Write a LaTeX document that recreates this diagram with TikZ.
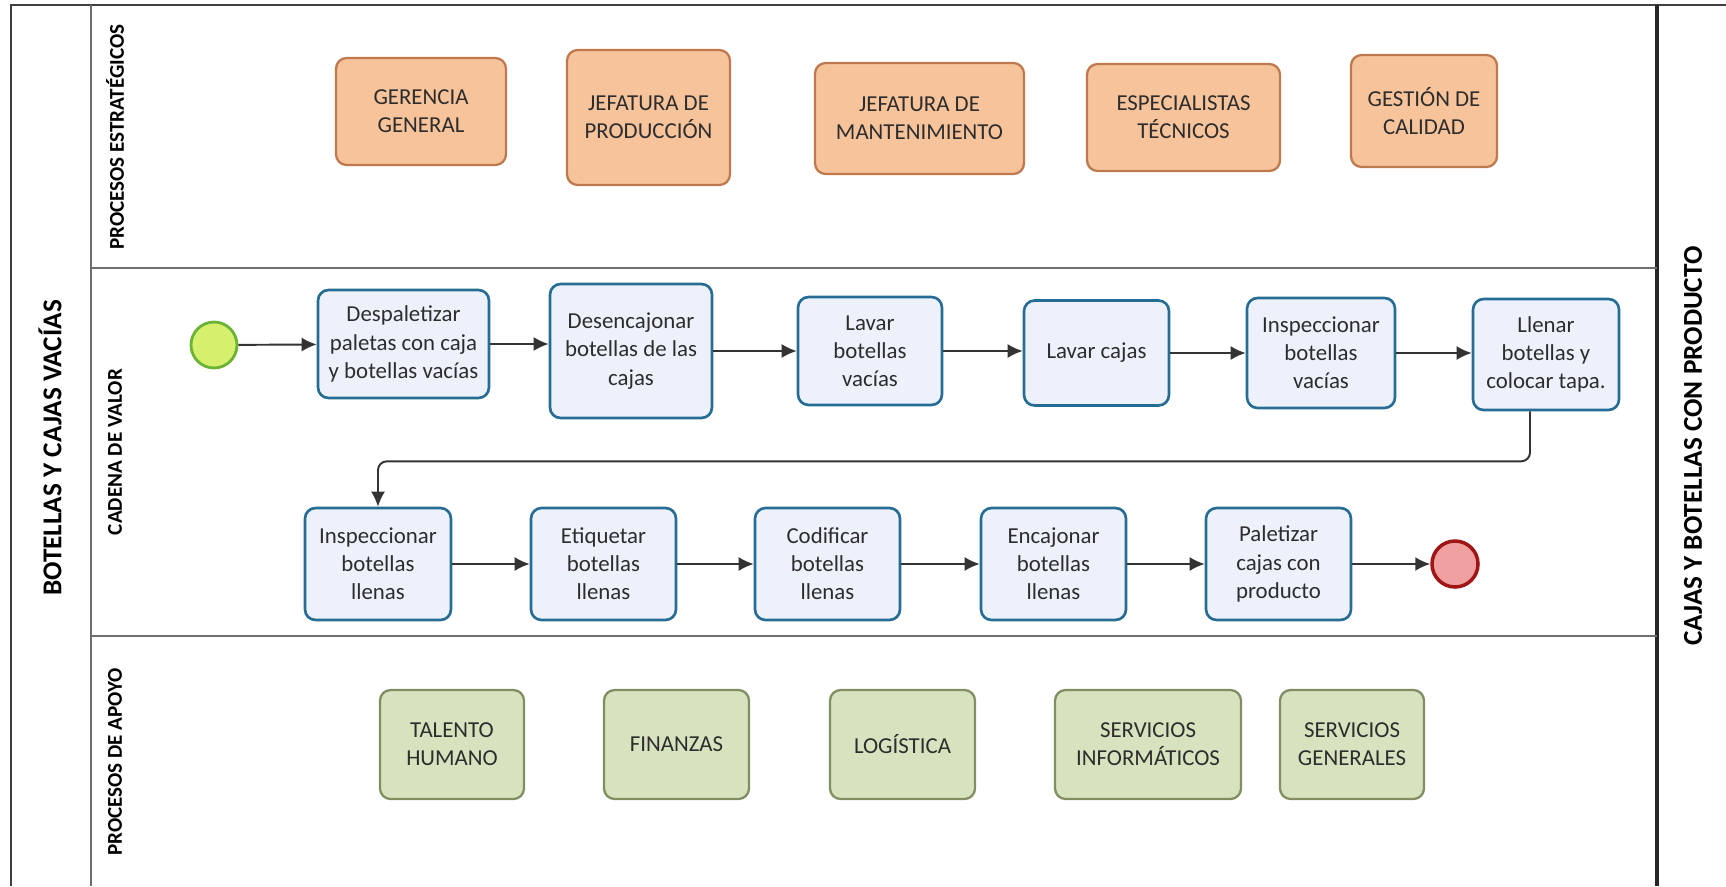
\documentclass[tikz,border=0pt]{standalone}
\usepackage{fontspec}
\setmainfont{Carlito}
\usepackage{xcolor}
\usepackage{tikz}
\usetikzlibrary{arrows.meta,positioning,calc}

\definecolor{stratfill}{RGB}{247,195,155}
\definecolor{stratdraw}{RGB}{190,122,78}
\definecolor{taskfill}{RGB}{236,241,252}
\definecolor{taskdraw}{RGB}{38,108,148}
\definecolor{suppfill}{RGB}{215,227,191}
\definecolor{suppdraw}{RGB}{128,142,98}
\definecolor{startfill}{RGB}{214,240,110}
\definecolor{startdraw}{RGB}{108,178,52}
\definecolor{endfill}{RGB}{240,160,160}
\definecolor{enddraw}{RGB}{160,22,22}
\definecolor{laneline}{RGB}{110,110,110}
\definecolor{boxtext}{RGB}{45,45,45}

\begin{document}
\begin{tikzpicture}[
  x=0.02cm, y=-0.02cm,
  font=\fontsize{13}{16}\selectfont,
  strat/.style={draw=stratdraw, fill=stratfill, line width=1.3pt, rounded corners=6pt, align=center, text=boxtext, inner sep=0pt},
  task/.style={draw=taskdraw, fill=taskfill, line width=1.5pt, rounded corners=6pt, align=center, text=boxtext, inner sep=0pt},
  supp/.style={draw=suppdraw, fill=suppfill, line width=1.3pt, rounded corners=6pt, align=center, text=boxtext, inner sep=0pt},
  event/.style={circle, minimum size=0.92cm, inner sep=0pt, line width=1.6pt},
  lanelabel/.style={rotate=90, font=\fontsize{12}{14}\selectfont\bfseries},
  sidelabel/.style={rotate=90, font=\fontsize{15.5}{18}\selectfont\bfseries},
  lane/.style={draw=laneline, line width=1.2pt},
  arrow/.style={-{Latex[length=3mm,width=2.8mm]}, line width=1.1pt, draw=black!80}
]
\useasboundingbox (0,0) rectangle (1726,886);

% frame and lanes
\draw[black!75, line width=1.3pt] (11,886) -- (11,5) -- (1726,5);
\draw[lane] (91,5) -- (91,886);
\draw[black!85, line width=2pt] (1657,5) -- (1657,886);
\draw[lane] (91,268) -- (1657,268);
\draw[lane] (91,636) -- (1657,636);

\node[sidelabel] (entrada) at (50,448) {BOTELLAS Y CAJAS VACÍAS};
\node[sidelabel] (salida) at (1693,446) {CAJAS Y BOTELLAS CON PRODUCTO};
\node[lanelabel] (lstrat) at (115,137) {PROCESOS ESTRATÉGICOS};
\node[lanelabel] (lvalor) at (115,452) {CADENA DE VALOR};
\node[lanelabel] (lapoyo) at (115,762) {PROCESOS DE APOYO};

% procesos estrategicos
\node[strat, minimum width=3.40cm, minimum height=2.14cm] (gerencia) at (421,111.5) {GERENCIA\\GENERAL};
\node[strat, minimum width=3.26cm, minimum height=2.70cm] (jefprod) at (648.5,117.5) {JEFATURA DE\\PRODUCCIÓN};
\node[strat, minimum width=4.18cm, minimum height=2.22cm] (jefmant) at (919.5,118.5) {JEFATURA DE\\MANTENIMIENTO};
\node[strat, minimum width=3.86cm, minimum height=2.14cm] (especial) at (1183.5,117.5) {ESPECIALISTAS\\TÉCNICOS};
\node[strat, minimum width=2.92cm, minimum height=2.24cm] (calidad) at (1424,111) {GESTIÓN DE\\CALIDAD};

% cadena de valor
\node[event, draw=startdraw, fill=startfill] (inicio) at (214,345) {};
\node[task, minimum width=3.42cm, minimum height=2.16cm] (despal) at (403.5,344) {Despaletizar\\paletas con caja\\y botellas vacías};
\node[task, minimum width=3.24cm, minimum height=2.68cm] (desenc) at (631,351) {Desencajonar\\botellas de las\\cajas};
\node[task, minimum width=2.88cm, minimum height=2.16cm] (lavbot) at (870,351) {Lavar\\botellas\\vacías};
\node[task, minimum width=2.90cm, minimum height=2.10cm] (lavcaj) at (1096.5,353) {Lavar cajas};
\node[task, minimum width=2.96cm, minimum height=2.20cm] (insvac) at (1321,353) {Inspeccionar\\botellas\\vacías};
\node[task, minimum width=2.92cm, minimum height=2.22cm] (llenar) at (1546,354.5) {Llenar\\botellas y\\colocar tapa.};

\node[task, minimum width=2.92cm, minimum height=2.24cm] (insll) at (378,564) {Inspeccionar\\botellas\\llenas};
\node[task, minimum width=2.90cm, minimum height=2.24cm] (etiq) at (603.5,564) {Etiquetar\\botellas\\llenas};
\node[task, minimum width=2.90cm, minimum height=2.24cm] (codif) at (827.5,564) {Codificar\\botellas\\llenas};
\node[task, minimum width=2.90cm, minimum height=2.24cm] (encaj) at (1053.5,564) {Encajonar\\botellas\\llenas};
\node[task, minimum width=2.90cm, minimum height=2.24cm] (palet) at (1278.5,564) {Paletizar\\cajas con\\producto};
\node[event, draw=enddraw, fill=endfill, line width=2pt] (fin) at (1455,564) {};

\draw[arrow] (inicio) -- (despal);
\draw[arrow] (despal.east) -- (despal.east -| desenc.west);
\draw[arrow] (desenc.east) -- (desenc.east -| lavbot.west);
\draw[arrow] (lavbot.east) -- (lavbot.east -| lavcaj.west);
\draw[arrow] (lavcaj.east) -- (lavcaj.east -| insvac.west);
\draw[arrow] (insvac.east) -- (insvac.east -| llenar.west);
\draw[arrow, rounded corners=5pt] ([xshift=-0.32cm]llenar.south) -- ++(0,50) -| (insll.north);
\draw[arrow] (insll) -- (etiq);
\draw[arrow] (etiq) -- (codif);
\draw[arrow] (codif) -- (encaj);
\draw[arrow] (encaj) -- (palet);
\draw[arrow] (palet) -- (fin);

% procesos de apoyo
\node[supp, minimum width=2.88cm, minimum height=2.18cm] (talento) at (452,744.5) {TALENTO\\HUMANO};
\node[supp, minimum width=2.90cm, minimum height=2.18cm] (finanzas) at (676.5,744.5) {FINANZAS};
\node[supp, minimum width=2.90cm, minimum height=2.18cm] (logistica) at (902.5,744.5) {LOGÍSTICA};
\node[supp, minimum width=3.72cm, minimum height=2.18cm] (servinf) at (1148,744.5) {SERVICIOS\\INFORMÁTICOS};
\node[supp, minimum width=2.88cm, minimum height=2.18cm] (servgen) at (1352,744.5) {SERVICIOS\\GENERALES};
\end{tikzpicture}
\end{document}
